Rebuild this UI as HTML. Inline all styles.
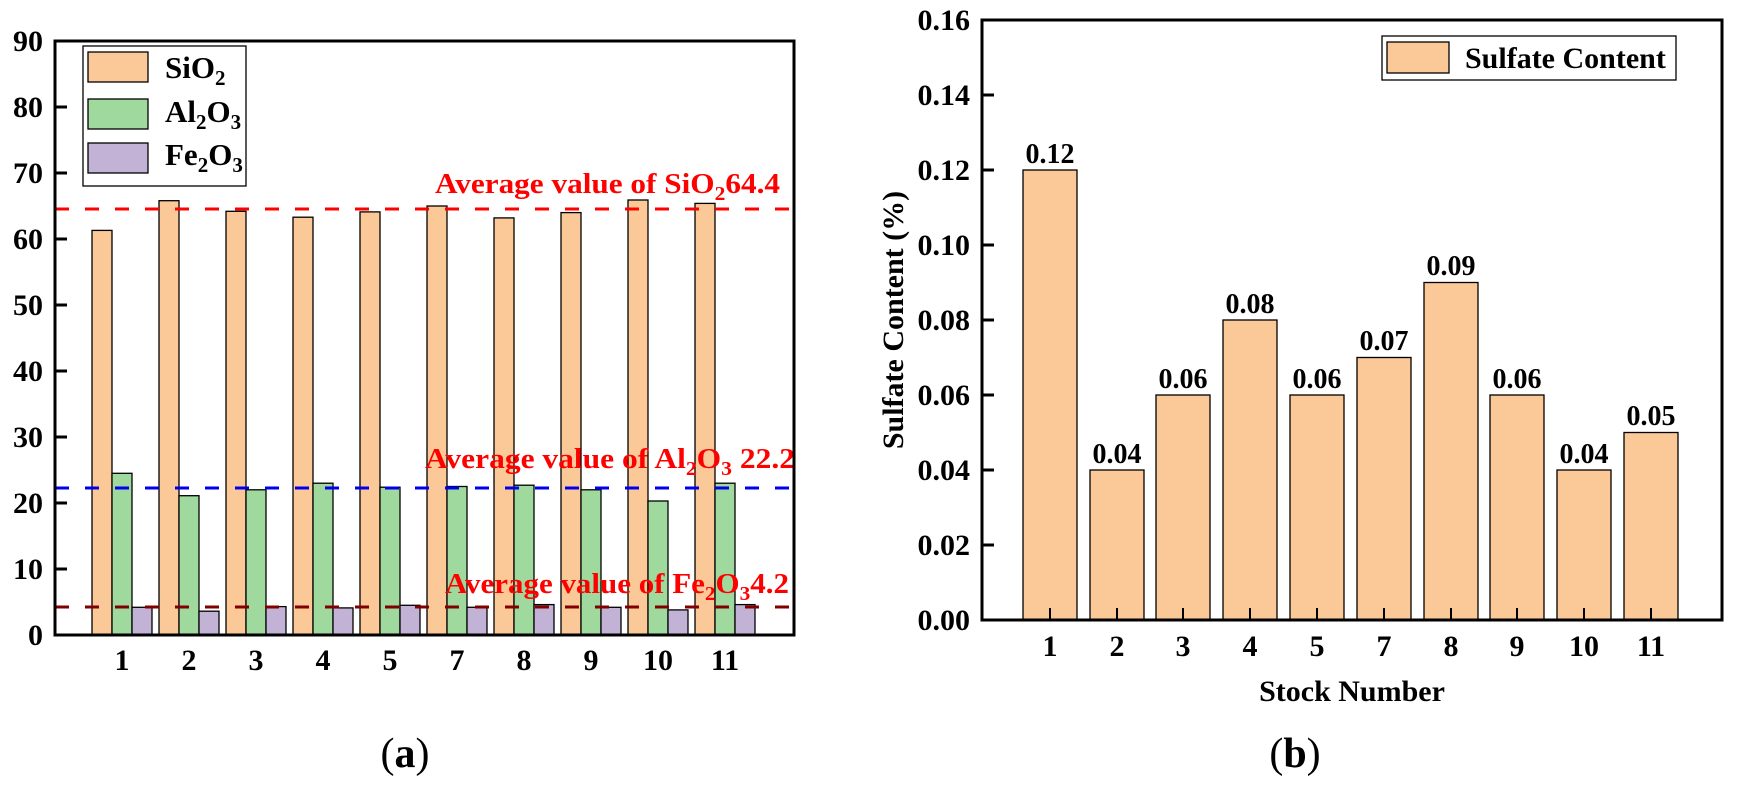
<!DOCTYPE html>
<html><head><meta charset="utf-8"><style>
body{margin:0;background:#fff}
svg{display:block;font-family:"Liberation Serif",serif;font-weight:bold}
</style></head><body>
<svg width="1740" height="787" viewBox="0 0 1740 787" xmlns="http://www.w3.org/2000/svg">
<!-- LEFT CHART -->
<g stroke="#000" stroke-width="1.3">
<!-- SiO2 -->
<g fill="#FBC898">
<rect x="92" y="230.4" width="20" height="404.6"/>
<rect x="159" y="200.7" width="20" height="434.3"/>
<rect x="226" y="211.3" width="20" height="423.7"/>
<rect x="293" y="217.2" width="20" height="417.8"/>
<rect x="360" y="211.9" width="20" height="423.1"/>
<rect x="427" y="206" width="20" height="429"/>
<rect x="494" y="217.9" width="20" height="417.1"/>
<rect x="561" y="212.6" width="20" height="422.4"/>
<rect x="628" y="200" width="20" height="435"/>
<rect x="695" y="203.4" width="20" height="431.6"/>
</g>
<g fill="#A0D99D">
<rect x="112" y="473.3" width="20" height="161.7"/>
<rect x="179" y="495.7" width="20" height="139.3"/>
<rect x="246" y="489.8" width="20" height="145.2"/>
<rect x="313" y="483.2" width="20" height="151.8"/>
<rect x="380" y="487.2" width="20" height="147.8"/>
<rect x="447" y="486.5" width="20" height="148.5"/>
<rect x="514" y="485.2" width="20" height="149.8"/>
<rect x="581" y="489.8" width="20" height="145.2"/>
<rect x="648" y="501" width="20" height="134"/>
<rect x="715" y="483.2" width="20" height="151.8"/>
</g>
<g fill="#C2B2D6">
<rect x="132" y="607.3" width="20" height="27.7"/>
<rect x="199" y="611.2" width="20" height="23.8"/>
<rect x="266" y="606.6" width="20" height="28.4"/>
<rect x="333" y="607.9" width="20" height="27.1"/>
<rect x="400" y="605.3" width="20" height="29.7"/>
<rect x="467" y="607.3" width="20" height="27.7"/>
<rect x="534" y="604.6" width="20" height="30.4"/>
<rect x="601" y="607.3" width="20" height="27.7"/>
<rect x="668" y="609.9" width="20" height="25.1"/>
<rect x="735" y="604.6" width="20" height="30.4"/>
</g>
</g>
<!-- avg lines -->
<line x1="55" y1="209" x2="794" y2="209" stroke="#FF0000" stroke-width="3" stroke-dasharray="14 16"/>
<line x1="55" y1="488" x2="794" y2="488" stroke="#0000EE" stroke-width="3" stroke-dasharray="14 16"/>
<line x1="55" y1="607" x2="794" y2="607" stroke="#800000" stroke-width="3" stroke-dasharray="14 16"/>
<g fill="#FF0000" font-size="29">
<text x="435" y="193" textLength="345" lengthAdjust="spacingAndGlyphs">Average value of SiO<tspan font-size="20" dy="7">2</tspan><tspan dy="-7">64.4</tspan></text>
<text x="425" y="468" textLength="370" lengthAdjust="spacingAndGlyphs">Average value of Al<tspan font-size="20" dy="7">2</tspan><tspan dy="-7">O</tspan><tspan font-size="20" dy="7">3</tspan><tspan dy="-7"> 22.2</tspan></text>
<text x="445" y="593" textLength="344" lengthAdjust="spacingAndGlyphs">Average value of Fe<tspan font-size="20" dy="7">2</tspan><tspan dy="-7">O</tspan><tspan font-size="20" dy="7">3</tspan><tspan dy="-7">4.2</tspan></text>
</g>
<!-- axes -->
<rect x="55" y="41" width="739" height="594" fill="none" stroke="#000" stroke-width="3"/>
<g stroke="#000" stroke-width="3">
<line x1="55" y1="569" x2="67" y2="569"/><line x1="55" y1="503" x2="67" y2="503"/><line x1="55" y1="437" x2="67" y2="437"/>
<line x1="55" y1="371" x2="67" y2="371"/><line x1="55" y1="305" x2="67" y2="305"/><line x1="55" y1="239" x2="67" y2="239"/>
<line x1="55" y1="173" x2="67" y2="173"/><line x1="55" y1="107" x2="67" y2="107"/>
</g>
<g font-size="30" text-anchor="end">
<text x="43" y="645">0</text><text x="43" y="579">10</text><text x="43" y="513">20</text><text x="43" y="447">30</text>
<text x="43" y="381">40</text><text x="43" y="315">50</text><text x="43" y="249">60</text><text x="43" y="183">70</text>
<text x="43" y="117">80</text><text x="43" y="51">90</text>
</g>
<g font-size="30" text-anchor="middle">
<text x="122" y="670">1</text><text x="189" y="670">2</text><text x="256" y="670">3</text><text x="323" y="670">4</text>
<text x="390" y="670">5</text><text x="457" y="670">7</text><text x="524" y="670">8</text><text x="591" y="670">9</text>
<text x="658" y="670">10</text><text x="725" y="670">11</text>
</g>
<!-- legend -->
<rect x="83" y="46" width="163" height="140" fill="#fff" stroke="#000" stroke-width="1.3"/>
<rect x="88" y="52" width="60" height="30" fill="#FBC898" stroke="#000" stroke-width="1.3"/>
<rect x="88" y="99" width="60" height="30" fill="#A0D99D" stroke="#000" stroke-width="1.3"/>
<rect x="88" y="143" width="60" height="30" fill="#C2B2D6" stroke="#000" stroke-width="1.3"/>
<g font-size="31">
<text x="165" y="78">SiO<tspan font-size="21" dy="7">2</tspan></text>
<text x="165" y="122">Al<tspan font-size="21" dy="7">2</tspan><tspan dy="-7">O</tspan><tspan font-size="21" dy="7">3</tspan></text>
<text x="165" y="165">Fe<tspan font-size="21" dy="7">2</tspan><tspan dy="-7">O</tspan><tspan font-size="21" dy="7">3</tspan></text>
</g>
<text x="405" y="767" font-size="42" text-anchor="middle" font-weight="normal">(<tspan font-weight="bold">a</tspan>)</text>

<!-- RIGHT CHART -->
<g fill="#FBC898" stroke="#000" stroke-width="1.3">
<rect x="1023" y="170" width="54" height="450"/>
<rect x="1090" y="470" width="54" height="150"/>
<rect x="1156" y="395" width="54" height="225"/>
<rect x="1223" y="320" width="54" height="300"/>
<rect x="1290" y="395" width="54" height="225"/>
<rect x="1357" y="357.5" width="54" height="262.5"/>
<rect x="1424" y="282.5" width="54" height="337.5"/>
<rect x="1490" y="395" width="54" height="225"/>
<rect x="1557" y="470" width="54" height="150"/>
<rect x="1624" y="432.5" width="54" height="187.5"/>
</g>
<g font-size="28" text-anchor="middle">
<text x="1050" y="163">0.12</text><text x="1117" y="463">0.04</text><text x="1183" y="388">0.06</text>
<text x="1250" y="313">0.08</text><text x="1317" y="388">0.06</text><text x="1384" y="350">0.07</text>
<text x="1451" y="275">0.09</text><text x="1517" y="388">0.06</text><text x="1584" y="463">0.04</text>
<text x="1651" y="425">0.05</text>
</g>
<rect x="982" y="20" width="740" height="600" fill="none" stroke="#000" stroke-width="3"/>
<g stroke="#000" stroke-width="3">
<line x1="982" y1="545" x2="994" y2="545"/><line x1="982" y1="470" x2="994" y2="470"/><line x1="982" y1="395" x2="994" y2="395"/>
<line x1="982" y1="320" x2="994" y2="320"/><line x1="982" y1="245" x2="994" y2="245"/><line x1="982" y1="170" x2="994" y2="170"/>
<line x1="982" y1="95" x2="994" y2="95"/>
</g>
<g stroke="#000" stroke-width="2">
<line x1="1050" y1="620" x2="1050" y2="608"/><line x1="1117" y1="620" x2="1117" y2="608"/><line x1="1183" y1="620" x2="1183" y2="608"/>
<line x1="1250" y1="620" x2="1250" y2="608"/><line x1="1317" y1="620" x2="1317" y2="608"/><line x1="1384" y1="620" x2="1384" y2="608"/>
<line x1="1451" y1="620" x2="1451" y2="608"/><line x1="1517" y1="620" x2="1517" y2="608"/><line x1="1584" y1="620" x2="1584" y2="608"/>
<line x1="1651" y1="620" x2="1651" y2="608"/>
</g>
<g font-size="30" text-anchor="end">
<text x="970" y="630">0.00</text><text x="970" y="555">0.02</text><text x="970" y="480">0.04</text><text x="970" y="405">0.06</text>
<text x="970" y="330">0.08</text><text x="970" y="255">0.10</text><text x="970" y="180">0.12</text><text x="970" y="105">0.14</text>
<text x="970" y="30">0.16</text>
</g>
<g font-size="30" text-anchor="middle">
<text x="1050" y="656">1</text><text x="1117" y="656">2</text><text x="1183" y="656">3</text><text x="1250" y="656">4</text>
<text x="1317" y="656">5</text><text x="1384" y="656">7</text><text x="1451" y="656">8</text><text x="1517" y="656">9</text>
<text x="1584" y="656">10</text><text x="1651" y="656">11</text>
</g>
<text x="1352" y="701" font-size="30" text-anchor="middle">Stock Number</text>
<text transform="translate(903,320) rotate(-90)" font-size="30" text-anchor="middle">Sulfate Content (%)</text>
<rect x="1382" y="36" width="294" height="44" fill="#fff" stroke="#000" stroke-width="1.3"/>
<rect x="1387" y="42" width="62" height="31" fill="#FBC898" stroke="#000" stroke-width="1.3"/>
<text x="1465" y="68" font-size="30">Sulfate Content</text>
<text x="1295" y="767" font-size="42" text-anchor="middle" font-weight="normal">(<tspan font-weight="bold">b</tspan>)</text>
</svg>
</body></html>
